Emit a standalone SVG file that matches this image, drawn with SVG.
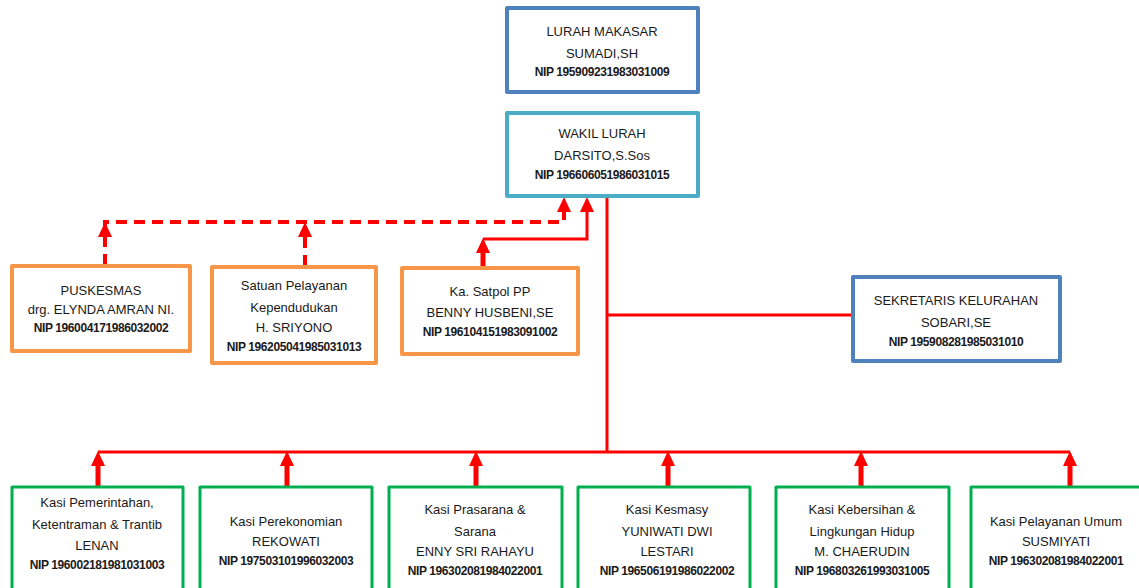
<svg xmlns="http://www.w3.org/2000/svg" xmlns:xlink="http://www.w3.org/1999/xlink" width="1139" height="588" viewBox="0 0 1139 588">
<style>
.box{fill:#fff;stroke-linejoin:round}
.blue{stroke:#4F81BD;stroke-width:4}
.teal{stroke:#4BACC6;stroke-width:4}
.orange{stroke:#F79646;stroke-width:4}
.green{stroke:#00B050;stroke-width:3}
text{font-family:"Liberation Sans",Arial,sans-serif;font-size:13px;fill:#1a1a1a;text-anchor:middle}
.nip{font-size:12px;font-weight:bold;letter-spacing:-0.4px}
.ln{stroke:#FF0000;fill:none;stroke-width:3}
.dash{stroke:#FF0000;fill:none;stroke-width:4;stroke-dasharray:11,7}
.shaft{stroke:#FF0000;fill:none;stroke-width:5}
.ah{fill:#FF0000}
</style>
<defs>
<path id="ah" d="M0,0 L7,15 L-7,15 Z"/>
</defs>
<g id="connectors">
<path class="ln" d="M607,197 V452"/>
<path class="ln" d="M98,452 H1070"/>
<path class="ln" d="M607,315 H852"/>
<path class="dash" d="M105,265 V222 H564 V205"/>
<path class="dash" d="M305,266 V232"/>
<path class="ln" d="M587,205 V239 H483"/>
<path class="shaft" d="M483,267 V250"/>
<use href="#ah" class="ah" x="105" y="222"/>
<use href="#ah" class="ah" x="305" y="222"/>
<use href="#ah" class="ah" x="564" y="197"/>
<use href="#ah" class="ah" x="587" y="197"/>
<use href="#ah" class="ah" x="483" y="238"/>
<path class="shaft" d="M98,487 V464 M287,487 V464 M476,487 V464 M668,487 V464 M861,487 V464 M1070,487 V464"/>
<use href="#ah" class="ah" x="98" y="451"/>
<use href="#ah" class="ah" x="287" y="451"/>
<use href="#ah" class="ah" x="476" y="451"/>
<use href="#ah" class="ah" x="668" y="451"/>
<use href="#ah" class="ah" x="861" y="451"/>
<use href="#ah" class="ah" x="1070" y="451"/>
</g>
<g id="lurah">
<rect class="box blue" x="507" y="8" width="191" height="84"/>
<text x="602" y="36">LURAH MAKASAR</text>
<text x="602" y="58">SUMADI,SH</text>
<text class="nip" x="602" y="76">NIP 195909231983031009</text>
</g>
<g id="wakil">
<rect class="box teal" x="507" y="113" width="191" height="83"/>
<text x="602" y="138">WAKIL LURAH</text>
<text x="602" y="160">DARSITO,S.Sos</text>
<text class="nip" x="602" y="179">NIP 196606051986031015</text>
</g>
<g id="puskesmas">
<rect class="box orange" x="12" y="266" width="178" height="85"/>
<text x="101" y="295">PUSKESMAS</text>
<text x="101" y="314">drg. ELYNDA AMRAN NI.</text>
<text class="nip" x="101" y="332">NIP 196004171986032002</text>
</g>
<g id="satuan">
<rect class="box orange" x="212" y="267" width="164" height="96"/>
<text x="294" y="290">Satuan Pelayanan</text>
<text x="294" y="312">Kependudukan</text>
<text x="294" y="332">H. SRIYONO</text>
<text class="nip" x="294" y="351">NIP 196205041985031013</text>
</g>
<g id="satpol">
<rect class="box orange" x="402" y="268" width="176" height="86"/>
<text x="490" y="296">Ka. Satpol PP</text>
<text x="490" y="317">BENNY HUSBENI,SE</text>
<text class="nip" x="490" y="336">NIP 196104151983091002</text>
</g>
<g id="sekretaris">
<rect class="box blue" x="853" y="277" width="207" height="84"/>
<text x="956" y="305">SEKRETARIS KELURAHAN</text>
<text x="956" y="327">SOBARI,SE</text>
<text class="nip" x="956" y="346">NIP 195908281985031010</text>
</g>
<g id="kasi1">
<rect class="box green" x="12" y="487" width="171" height="110"/>
<text x="97" y="507">Kasi Pemerintahan,</text>
<text x="97" y="529">Ketentraman &amp; Trantib</text>
<text x="97" y="550">LENAN</text>
<text class="nip" x="97" y="569">NIP 196002181981031003</text>
</g>
<g id="kasi2">
<rect class="box green" x="200" y="487" width="172" height="110"/>
<text x="286" y="526">Kasi Perekonomian</text>
<text x="286" y="546">REKOWATI</text>
<text class="nip" x="286" y="565">NIP 197503101996032003</text>
</g>
<g id="kasi3">
<rect class="box green" x="389" y="487" width="173" height="110"/>
<text x="475" y="514">Kasi Prasarana &amp;</text>
<text x="475" y="536">Sarana</text>
<text x="475" y="556">ENNY SRI RAHAYU</text>
<text class="nip" x="475" y="575">NIP 196302081984022001</text>
</g>
<g id="kasi4">
<rect class="box green" x="578" y="487" width="172" height="110"/>
<text x="667" y="514">Kasi Kesmasy</text>
<text x="667" y="536">YUNIWATI DWI</text>
<text x="667" y="556">LESTARI</text>
<text class="nip" x="667" y="575">NIP 196506191986022002</text>
</g>
<g id="kasi5">
<rect class="box green" x="776" y="487" width="173" height="110"/>
<text x="862" y="514">Kasi Kebersihan &amp;</text>
<text x="862" y="536">Lingkungan Hidup</text>
<text x="862" y="556">M. CHAERUDIN</text>
<text class="nip" x="862" y="575">NIP 196803261993031005</text>
</g>
<g id="kasi6">
<rect class="box green" x="971" y="487" width="180" height="110"/>
<text x="1056" y="526">Kasi Pelayanan Umum</text>
<text x="1056" y="546">SUSMIYATI</text>
<text class="nip" x="1056" y="565">NIP 196302081984022001</text>
</g>
</svg>
